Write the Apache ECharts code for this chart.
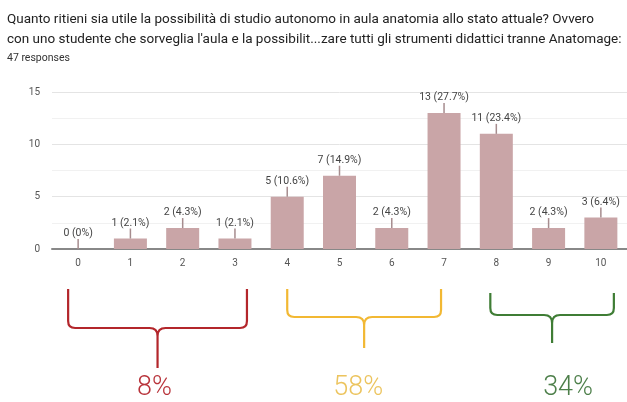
<!DOCTYPE html>
<html>
<head>
<meta charset="utf-8">
<script src="https://cdn.jsdelivr.net/npm/echarts@6/dist/echarts.min.js"></script>
<style>
html,body{margin:0;padding:0;background:#fff;}
#c{width:627px;height:402px;}
</style>
</head>
<body>
<div id="c"></div>
<script>
const titleLine1 = "Quanto ritieni sia utile la possibilità di studio autonomo in aula anatomia allo stato attuale? Ovvero";
const titleLine2 = "con uno studente che sorveglia l'aula e la possibilit...zare tutti gli strumenti didattici tranne Anatomage:";
const subtitle = "47 responses";
const categories = ['0','1','2','3','4','5','6','7','8','9','10'];
const counts = [0, 1, 2, 1, 5, 7, 2, 13, 11, 2, 3];
const percents = ['0%','2.1%','4.3%','2.1%','10.6%','14.9%','4.3%','27.7%','23.4%','4.3%','6.4%'];
const yTicks = [0, 5, 10, 15];
const groupStart = [0, 4, 8];
const groupEnd = [3, 7, 10];
const groupLabels = ['8%', '58%', '34%'];

// brace styling / placement (pixel tweaks only)
const braceStyle = [
  { color: '#b3262b', text: '#b8333a', lOff: -10, rOff: 12, top: 289, h: 328, tip: 368, tx: -3 },
  { color: '#f2b833', text: '#ecc45e', lOff: 0, rOff: -3, top: 289, h: 317, tip: 348, tx: -6 },
  { color: '#3f7d35', text: '#4d7f4a', lOff: -6, rOff: 13, top: 293, h: 315, tip: 343, tx: 16 }
];

const chart = echarts.init(document.getElementById('c'));
chart.setOption({
  animation: false,
  backgroundColor: '#fff',
  title: [
    { text: titleLine1 + '\n' + titleLine2, left: 2, top: 5,
      textStyle: { fontFamily: 'Roboto', fontSize: 13.5, fontWeight: 'normal', color: '#222', lineHeight: 20 } },
    { text: subtitle, left: 2, top: 48,
      textStyle: { fontFamily: 'Roboto', fontSize: 10.5, fontWeight: 'normal', color: '#333' } }
  ],
  grid: { left: 52, right: -2, top: 92, bottom: 153 },
  xAxis: {
    type: 'category', data: categories,
    axisLine: { lineStyle: { color: '#888', width: 2 } },
    axisTick: { show: false },
    axisLabel: { fontFamily: 'Roboto', fontSize: 10, color: '#555', margin: 9 }
  },
  yAxis: {
    type: 'value', min: yTicks[0], max: yTicks[yTicks.length - 1], interval: 5,
    axisLine: { show: false }, axisTick: { show: false },
    axisLabel: { fontFamily: 'Roboto', fontSize: 10, color: '#555', margin: 12 },
    splitLine: { lineStyle: { color: '#e4e4e4', width: 1 } },
    minorTick: { show: false, splitNumber: 2 },
    minorSplitLine: { show: true, lineStyle: { color: '#f1f1f1', width: 1 } }
  },
  series: [
    {
      type: 'bar', data: counts, barWidth: 33,
      itemStyle: { color: '#c9a5a7' },
      label: {
        show: true, position: 'top', distance: 10,
        fontFamily: 'Roboto', fontSize: 10.5, color: '#444',
        formatter: p => p.value + ' (' + percents[p.dataIndex] + ')'
      }
    },
    {
      type: 'custom',
      data: counts.map((v, i) => [i, v]),
      z: 5,
      renderItem: function (params, api) {
        const p = api.coord([api.value(0), api.value(1)]);
        return { type: 'line', shape: { x1: p[0], y1: p[1], x2: p[0], y2: p[1] - 10 },
                 style: { stroke: '#a68c8e', lineWidth: 1.5 } };
      }
    },
    {
      type: 'custom',
      clip: false,
      silent: true,
      data: groupStart.map((s, i) => [s, groupEnd[i], i]),
      renderItem: function (params, api) {
        const i = api.value(2);
        const st = braceStyle[i];
        const L = api.coord([api.value(0), 0])[0] + st.lOff;
        const R = api.coord([api.value(1), 0])[0] + st.rOff;
        const C = (L + R) / 2;
        const T = st.top, H = st.h, P = st.tip, r = 7, w = 8;
        const d = `M${L},${T} L${L},${H - r} Q${L},${H} ${L + r},${H} L${C - w},${H} Q${C},${H} ${C},${H + w} L${C},${P}` +
                  ` M${R},${T} L${R},${H - r} Q${R},${H} ${R - r},${H} L${C + w},${H} Q${C},${H} ${C},${H + w}`;
        return {
          type: 'group',
          children: [
            { type: 'path', shape: { pathData: d }, style: { stroke: st.color, lineWidth: 2.2, fill: null } },
            { type: 'text', x: C + st.tx, y: 388,
              style: { text: groupLabels[i], fill: st.text, font: '300 27px Roboto', align: 'center', verticalAlign: 'middle' } }
          ]
        };
      }
    }
  ]
});
</script>
</body>
</html>
